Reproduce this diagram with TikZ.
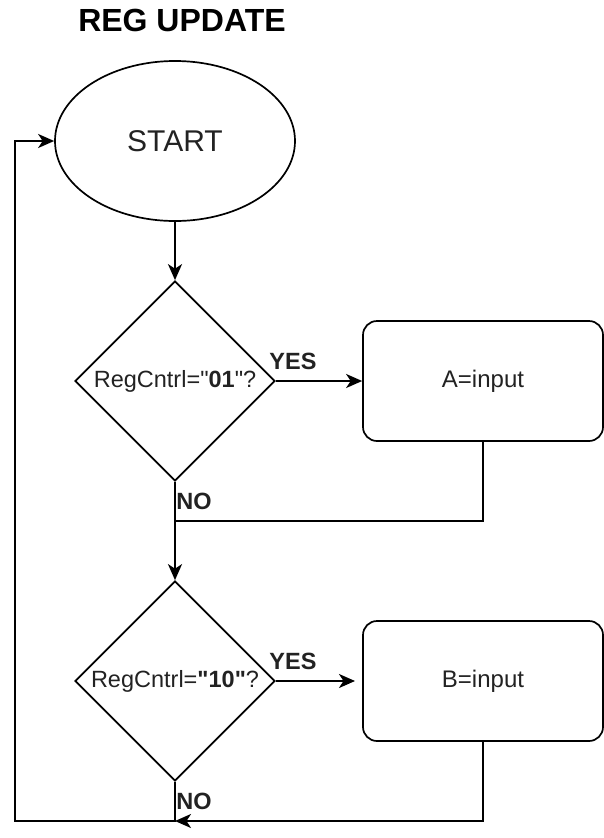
\documentclass[tikz,border=0pt]{standalone}
\usepackage{fontspec}
\setmainfont{Liberation Sans}
\usetikzlibrary{shapes.geometric,arrows.meta}
\definecolor{txt}{HTML}{222222}
\newcommand\sq{\XeTeXglyph\XeTeXglyphindex "quotedbl"\relax}
\tikzset{
  every node/.style={inner sep=0pt},
  line/.style={line width=2pt,black},
  tip/.style={-{Stealth[length=16pt,width=14pt,inset=4.5pt]}},
  decision/.style={draw,line width=1.7pt,shape=diamond,minimum width=200pt,minimum height=200pt,text=txt,font=\fontsize{23.5}{27}\selectfont},
  procbox/.style={draw,line width=1.7pt,rounded corners=14pt,minimum width=240pt,minimum height=120pt,text=txt,font=\fontsize{24}{28}\selectfont},
  lbl/.style={font=\bfseries\fontsize{23.5}{27}\selectfont,text=txt},
}
\begin{document}
\begin{tikzpicture}[x=1pt,y=-1pt]
\useasboundingbox (0,0) rectangle (604,838);
\node[font=\bfseries\fontsize{32}{36}\selectfont] (title) at (182,20) {REG UPDATE};
\node[draw,line width=1.7pt,ellipse,minimum width=240pt,minimum height=160pt,font=\fontsize{30}{34}\selectfont,text=txt] (start) at (175,141) {START};
\node[decision] (d1) at (175,381) {RegCntrl=\sq\textbf{01}\sq?};
\node[procbox] (a) at (483,381) {A=input};
\node[decision] (d2) at (175,681) {RegCntrl=\textbf{\sq10\sq}?};
\node[procbox] (b) at (483,681) {B=input};
\coordinate (j1) at (175,521);
\coordinate (yes2end) at (355,681);
\coordinate (j2) at (175,821);
\coordinate (loopbl) at (15,821);
\coordinate (looptl) at (15,141);
% connectors
\draw[line,tip] (start.south) -- (d1.north);
\draw[line,tip] (d1.east) -- (a.west);
\draw[line,tip] (d1.south) -- (d2.north);
\draw[line] (a.south) |- (j1);
\draw[line,tip] (d2.east) -- (yes2end);
\draw[line,tip] (d2.south) -- (j2) -- (loopbl) -- (looptl) -- (start.west);
\draw[line,tip] (b.south) |- (j2);
% labels
\node[lbl] (yes1) at (293,361) {YES};
\node[lbl] (no1) at (194,501) {NO};
\node[lbl] (yes2) at (293,661) {YES};
\node[lbl] (no2) at (194,801) {NO};
\end{tikzpicture}
\end{document}
